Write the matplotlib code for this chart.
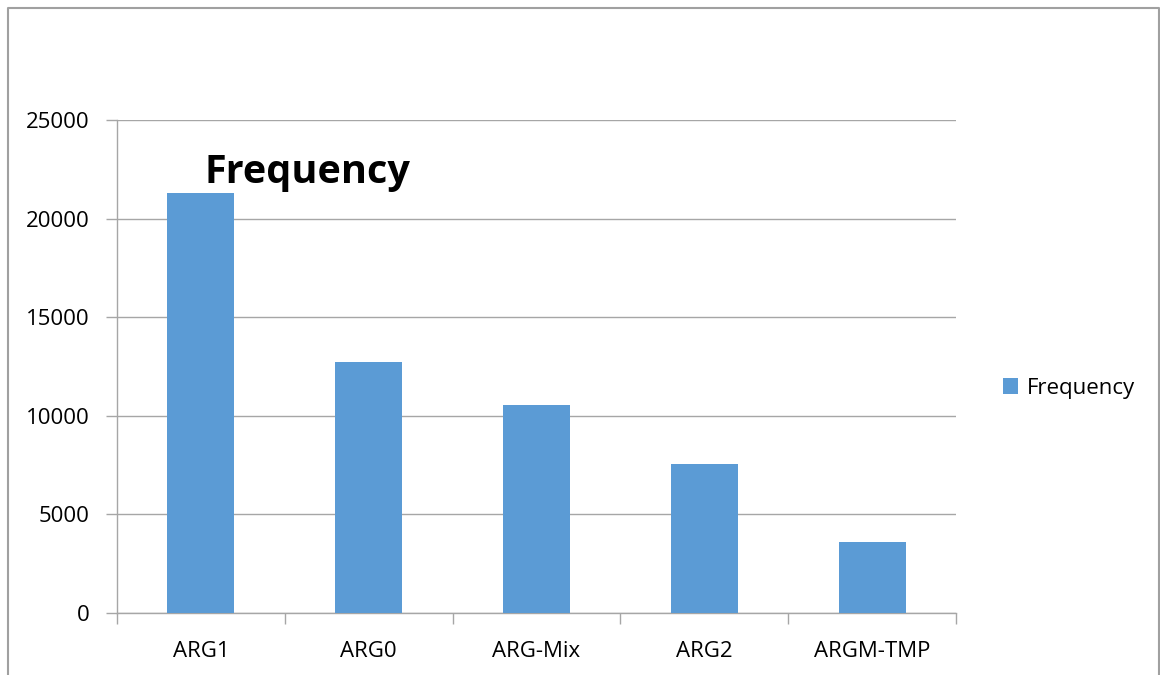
import matplotlib.pyplot as plt
import numpy as np
from matplotlib.lines import Line2D

categories = ["ARG1", "ARG0", "ARG-Mix", "ARG2", "ARGM-TMP"]
frequency = [21300, 12750, 10550, 7550, 3600]
y_ticks = [0, 5000, 10000, 15000, 20000, 25000]

plt.rcParams['font.family'] = ['Open Sans', 'DejaVu Sans']

bar_color = "#5B9BD5"
grid_color = "#A6A6A6"

fig = plt.figure(figsize=(11.6, 6.75), dpi=100)
ax = fig.add_axes([117 / 1160, 1 - 613 / 675, (956 - 117) / 1160, (613 - 120) / 675])

x = np.arange(len(categories))
ax.bar(x, frequency, width=0.4, color=bar_color, label="Frequency", zorder=3)

ax.set_xlim(-0.5, len(categories) - 0.5)
ax.set_ylim(0, 25000)
ax.set_yticks(y_ticks)
ax.set_yticklabels([str(v) for v in y_ticks], fontsize=16)
ax.set_xticks(x)
ax.set_xticklabels(categories, fontsize=16)
ax.set_xticks(np.arange(len(categories) + 1) - 0.5, minor=True)

ax.tick_params(axis="x", which="major", length=0, pad=20)
ax.tick_params(axis="x", which="minor", length=8, color=grid_color, width=1)
ax.tick_params(axis="y", length=8, color=grid_color, width=1, pad=12)

ax.yaxis.grid(True, color=grid_color, linewidth=1, zorder=0)
for s in ["top", "right"]:
    ax.spines[s].set_visible(False)
for s in ["left", "bottom"]:
    ax.spines[s].set_color(grid_color)
    ax.spines[s].set_linewidth(1)

ax.legend(loc="center left", bbox_to_anchor=(1.045, 0.456), frameon=False,
          fontsize=16, handlelength=0.7, handleheight=0.7, handletextpad=0.4,
          borderaxespad=0)

fig.text(307 / 1160, 1 - 172 / 675, "Frequency", fontsize=28.5, fontweight="bold",
         ha="center", va="center")

# outer chart frame (bottom edge is outside the image)
frame_x = [7.5 / 1160, 7.5 / 1160, 1158.5 / 1160, 1158.5 / 1160]
frame_y = [0, 1 - 7.5 / 675, 1 - 7.5 / 675, 0]
fig.add_artist(Line2D(frame_x, frame_y, color="#A0A0A0", linewidth=1.5,
                      transform=fig.transFigure))

fig.savefig("out.png", dpi=100)
